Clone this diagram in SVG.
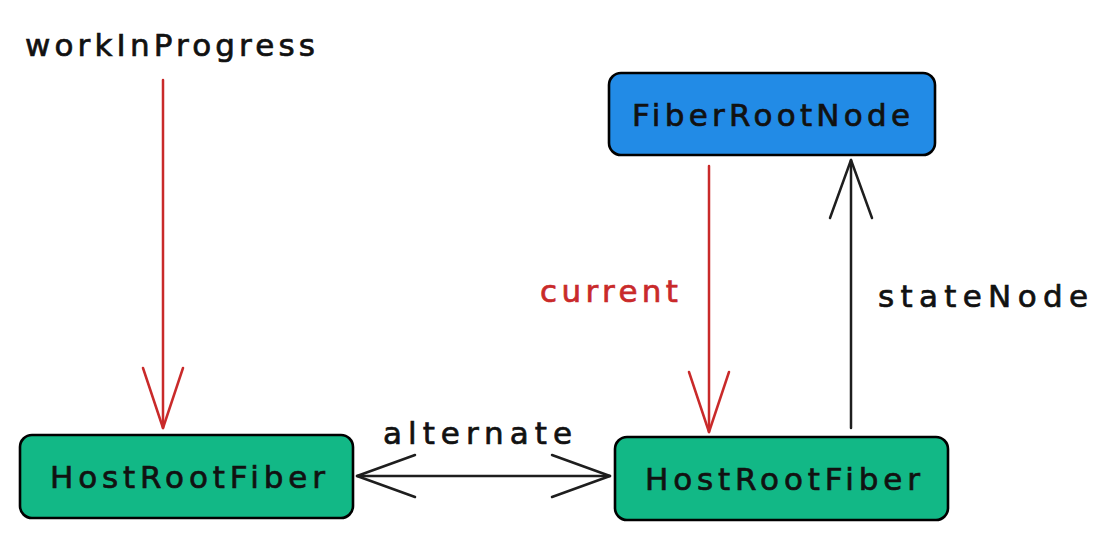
<svg xmlns="http://www.w3.org/2000/svg" width="1108" height="540" viewBox="0 0 1108 540">
<style>
.box{stroke:#000;stroke-width:2.6;}
.lbl{font-family:"DejaVu Sans",sans-serif;font-size:31px;fill:#111;stroke:#111;stroke-width:0.7;}
.rtxt{fill:#c92a2a;stroke:#c92a2a;}
.red{stroke:#c92a2a;}
.blk{stroke:#1e1e1e;}
.ln{fill:none;stroke-width:2.5;stroke-linecap:round;stroke-linejoin:round;}
</style>
<defs>
<marker id="hr" markerUnits="userSpaceOnUse" viewBox="-64 -26 70 52" markerWidth="70" markerHeight="52" refX="0" refY="0" orient="auto-start-reverse">
<path d="M-60 -20 L0 0 L-60 20" fill="none" stroke="#c92a2a" stroke-width="2.5" stroke-linecap="round" stroke-linejoin="round"/>
</marker>
<marker id="hb" markerUnits="userSpaceOnUse" viewBox="-64 -26 70 52" markerWidth="70" markerHeight="52" refX="0" refY="0" orient="auto-start-reverse">
<path d="M-58 -21 L0 0 L-58 21" fill="none" stroke="#1e1e1e" stroke-width="2.5" stroke-linecap="round" stroke-linejoin="round"/>
</marker>
</defs>
<rect width="1108" height="540" fill="#fff"/>
<g id="connectors">
<g id="wip-arrow">
<path class="ln red" d="M163 80 L163 428" marker-end="url(#hr)"/>
</g>
<g id="current-arrow">
<path class="ln red" d="M709 166 L709 432" marker-end="url(#hr)"/>
<text class="lbl rtxt" x="540" y="302" textLength="138" lengthAdjust="spacing">current</text>
</g>
<g id="statenode-arrow">
<path class="ln blk" d="M851 428 L851 160" marker-end="url(#hb)"/>
<text class="lbl" x="878" y="307" textLength="210" lengthAdjust="spacing">stateNode</text>
</g>
<g id="alternate-arrow">
<path class="ln blk" d="M357 476 L610 476" marker-start="url(#hb)" marker-end="url(#hb)"/>
<text class="lbl" x="383" y="444" textLength="189" lengthAdjust="spacing">alternate</text>
</g>
</g>
<g id="workInProgress">
<text class="lbl" x="25" y="56" textLength="290" lengthAdjust="spacing">workInProgress</text>
</g>
<g id="fiberRootNode">
<rect class="box" x="609" y="73" width="326" height="82" rx="12" fill="#228be6"/>
<text class="lbl" x="632" y="126" textLength="278" lengthAdjust="spacing">FiberRootNode</text>
</g>
<g id="hostRootFiber-left">
<rect class="box" x="20" y="435" width="333" height="83" rx="12" fill="#12b886"/>
<text class="lbl" x="50" y="488" textLength="275" lengthAdjust="spacing">HostRootFiber</text>
</g>
<g id="hostRootFiber-right">
<rect class="box" x="615" y="437" width="333" height="83" rx="12" fill="#12b886"/>
<text class="lbl" x="645" y="490" textLength="275" lengthAdjust="spacing">HostRootFiber</text>
</g>
</svg>
